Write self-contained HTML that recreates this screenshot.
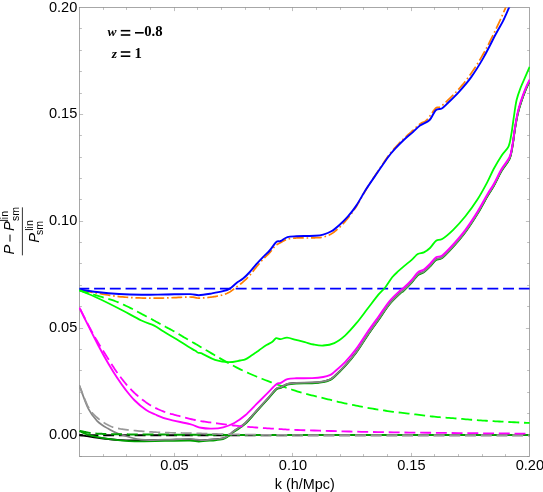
<!DOCTYPE html>
<html><head><meta charset="utf-8"><title>plot</title>
<style>
html,body{margin:0;padding:0;background:#fff;}
body{width:543px;height:492px;overflow:hidden;}
svg{display:block;will-change:transform;}
text{font-family:"Liberation Sans",sans-serif;fill:#000;}
.tk{font-size:15.4px;}
.ser text{font-family:"Liberation Serif",serif;font-weight:bold;}
</style></head><body>
<svg width="543" height="492" viewBox="0 0 543 492">
<rect x="0" y="0" width="543" height="492" fill="#ffffff"/>
<defs><clipPath id="cp"><rect x="78.95" y="7.55" width="450.99999999999994" height="448.84999999999997"/></clipPath></defs>
<g stroke="#8a8a8a" stroke-width="0.75" fill="none">
<rect x="79.5" y="7.5" width="450.0" height="449.0"/>
<g stroke-width="0.55">
<line x1="103.50" y1="456.50" x2="103.50" y2="454.10"/>
<line x1="103.50" y1="7.50" x2="103.50" y2="9.90"/>
<line x1="126.50" y1="456.50" x2="126.50" y2="454.10"/>
<line x1="126.50" y1="7.50" x2="126.50" y2="9.90"/>
<line x1="150.50" y1="456.50" x2="150.50" y2="454.10"/>
<line x1="150.50" y1="7.50" x2="150.50" y2="9.90"/>
<line x1="174.50" y1="456.50" x2="174.50" y2="452.90"/>
<line x1="174.50" y1="7.50" x2="174.50" y2="11.10"/>
<line x1="197.50" y1="456.50" x2="197.50" y2="454.10"/>
<line x1="197.50" y1="7.50" x2="197.50" y2="9.90"/>
<line x1="221.50" y1="456.50" x2="221.50" y2="454.10"/>
<line x1="221.50" y1="7.50" x2="221.50" y2="9.90"/>
<line x1="245.50" y1="456.50" x2="245.50" y2="454.10"/>
<line x1="245.50" y1="7.50" x2="245.50" y2="9.90"/>
<line x1="269.50" y1="456.50" x2="269.50" y2="454.10"/>
<line x1="269.50" y1="7.50" x2="269.50" y2="9.90"/>
<line x1="292.50" y1="456.50" x2="292.50" y2="452.90"/>
<line x1="292.50" y1="7.50" x2="292.50" y2="11.10"/>
<line x1="316.50" y1="456.50" x2="316.50" y2="454.10"/>
<line x1="316.50" y1="7.50" x2="316.50" y2="9.90"/>
<line x1="340.50" y1="456.50" x2="340.50" y2="454.10"/>
<line x1="340.50" y1="7.50" x2="340.50" y2="9.90"/>
<line x1="363.50" y1="456.50" x2="363.50" y2="454.10"/>
<line x1="363.50" y1="7.50" x2="363.50" y2="9.90"/>
<line x1="387.50" y1="456.50" x2="387.50" y2="454.10"/>
<line x1="387.50" y1="7.50" x2="387.50" y2="9.90"/>
<line x1="411.50" y1="456.50" x2="411.50" y2="452.90"/>
<line x1="411.50" y1="7.50" x2="411.50" y2="11.10"/>
<line x1="434.50" y1="456.50" x2="434.50" y2="454.10"/>
<line x1="434.50" y1="7.50" x2="434.50" y2="9.90"/>
<line x1="458.50" y1="456.50" x2="458.50" y2="454.10"/>
<line x1="458.50" y1="7.50" x2="458.50" y2="9.90"/>
<line x1="482.50" y1="456.50" x2="482.50" y2="454.10"/>
<line x1="482.50" y1="7.50" x2="482.50" y2="9.90"/>
<line x1="505.50" y1="456.50" x2="505.50" y2="454.10"/>
<line x1="505.50" y1="7.50" x2="505.50" y2="9.90"/>
<line x1="79.50" y1="456.50" x2="81.90" y2="456.50"/>
<line x1="529.50" y1="456.50" x2="527.10" y2="456.50"/>
<line x1="79.50" y1="434.50" x2="83.10" y2="434.50"/>
<line x1="529.50" y1="434.50" x2="525.90" y2="434.50"/>
<line x1="79.50" y1="413.50" x2="81.90" y2="413.50"/>
<line x1="529.50" y1="413.50" x2="527.10" y2="413.50"/>
<line x1="79.50" y1="392.50" x2="81.90" y2="392.50"/>
<line x1="529.50" y1="392.50" x2="527.10" y2="392.50"/>
<line x1="79.50" y1="370.50" x2="81.90" y2="370.50"/>
<line x1="529.50" y1="370.50" x2="527.10" y2="370.50"/>
<line x1="79.50" y1="349.50" x2="81.90" y2="349.50"/>
<line x1="529.50" y1="349.50" x2="527.10" y2="349.50"/>
<line x1="79.50" y1="328.50" x2="83.10" y2="328.50"/>
<line x1="529.50" y1="328.50" x2="525.90" y2="328.50"/>
<line x1="79.50" y1="306.50" x2="81.90" y2="306.50"/>
<line x1="529.50" y1="306.50" x2="527.10" y2="306.50"/>
<line x1="79.50" y1="285.50" x2="81.90" y2="285.50"/>
<line x1="529.50" y1="285.50" x2="527.10" y2="285.50"/>
<line x1="79.50" y1="263.50" x2="81.90" y2="263.50"/>
<line x1="529.50" y1="263.50" x2="527.10" y2="263.50"/>
<line x1="79.50" y1="242.50" x2="81.90" y2="242.50"/>
<line x1="529.50" y1="242.50" x2="527.10" y2="242.50"/>
<line x1="79.50" y1="221.50" x2="83.10" y2="221.50"/>
<line x1="529.50" y1="221.50" x2="525.90" y2="221.50"/>
<line x1="79.50" y1="199.50" x2="81.90" y2="199.50"/>
<line x1="529.50" y1="199.50" x2="527.10" y2="199.50"/>
<line x1="79.50" y1="178.50" x2="81.90" y2="178.50"/>
<line x1="529.50" y1="178.50" x2="527.10" y2="178.50"/>
<line x1="79.50" y1="157.50" x2="81.90" y2="157.50"/>
<line x1="529.50" y1="157.50" x2="527.10" y2="157.50"/>
<line x1="79.50" y1="135.50" x2="81.90" y2="135.50"/>
<line x1="529.50" y1="135.50" x2="527.10" y2="135.50"/>
<line x1="79.50" y1="114.50" x2="83.10" y2="114.50"/>
<line x1="529.50" y1="114.50" x2="525.90" y2="114.50"/>
<line x1="79.50" y1="93.50" x2="81.90" y2="93.50"/>
<line x1="529.50" y1="93.50" x2="527.10" y2="93.50"/>
<line x1="79.50" y1="71.50" x2="81.90" y2="71.50"/>
<line x1="529.50" y1="71.50" x2="527.10" y2="71.50"/>
<line x1="79.50" y1="50.50" x2="81.90" y2="50.50"/>
<line x1="529.50" y1="50.50" x2="527.10" y2="50.50"/>
<line x1="79.50" y1="28.50" x2="81.90" y2="28.50"/>
<line x1="529.50" y1="28.50" x2="527.10" y2="28.50"/>
</g>
</g>
<g clip-path="url(#cp)" stroke-linejoin="round" stroke-linecap="butt">
<path d="M79.40 288.70 L80.40 288.70 L81.65 288.70 L83.12 288.70 L84.76 288.70 L86.55 288.70 L88.45 288.70 L89.30 288.70 M94.10 288.70 L94.41 288.70 L96.36 288.70 L98.24 288.70 L100.00 288.70 L101.69 288.70 L103.37 288.70 L105.03 288.70 M109.83 288.70 L110.04 288.70 L111.70 288.70 L113.36 288.70 L115.01 288.70 L116.67 288.70 L118.34 288.70 L120.00 288.70 L120.76 288.70 M125.56 288.70 L126.67 288.70 L128.33 288.70 L130.00 288.70 L131.67 288.70 L133.33 288.70 L135.00 288.70 L136.49 288.70 M141.29 288.70 L141.67 288.70 L143.33 288.70 L145.00 288.70 L146.67 288.70 L148.33 288.70 L150.00 288.70 L151.67 288.70 L152.22 288.70 M157.02 288.70 L158.33 288.70 L160.00 288.70 L161.67 288.70 L163.33 288.70 L165.00 288.70 L166.67 288.70 L167.95 288.70 M172.75 288.70 L173.33 288.70 L175.00 288.70 L176.67 288.70 L178.33 288.70 L180.00 288.70 L181.67 288.70 L183.33 288.70 L183.68 288.70 M188.48 288.70 L190.00 288.70 L191.67 288.70 L193.33 288.70 L195.00 288.70 L196.67 288.70 L198.33 288.70 L199.41 288.70 M204.21 288.70 L205.00 288.70 L206.67 288.70 L208.33 288.70 L210.00 288.70 L211.67 288.70 L213.33 288.70 L215.00 288.70 L215.14 288.70 M219.94 288.70 L220.00 288.70 L221.67 288.70 L223.33 288.70 L225.00 288.70 L226.67 288.70 L228.33 288.70 L230.00 288.70 L230.87 288.70 M235.67 288.70 L236.67 288.70 L238.33 288.70 L240.00 288.70 L241.67 288.70 L243.33 288.70 L245.00 288.70 L246.60 288.70 M251.40 288.70 L251.67 288.70 L253.33 288.70 L255.00 288.70 L256.67 288.70 L258.33 288.70 L260.00 288.70 L261.67 288.70 L262.33 288.70 M267.13 288.70 L268.33 288.70 L270.00 288.70 L271.67 288.70 L273.33 288.70 L275.00 288.70 L276.67 288.70 L278.06 288.70 M282.86 288.70 L283.33 288.70 L285.00 288.70 L286.67 288.70 L288.33 288.70 L290.00 288.70 L291.67 288.70 L293.33 288.70 L293.79 288.70 M298.59 288.70 L300.00 288.70 L301.67 288.70 L303.33 288.70 L305.00 288.70 L306.67 288.70 L308.33 288.70 L309.52 288.70 M314.32 288.70 L315.00 288.70 L316.67 288.70 L318.33 288.70 L320.00 288.70 L321.67 288.70 L323.33 288.70 L325.00 288.70 L325.25 288.70 M330.05 288.70 L331.67 288.70 L333.33 288.70 L335.00 288.70 L336.67 288.70 L338.33 288.70 L340.00 288.70 L340.98 288.70 M345.78 288.70 L346.67 288.70 L348.33 288.70 L350.00 288.70 L351.67 288.70 L353.33 288.70 L355.00 288.70 L356.67 288.70 L356.71 288.70 M361.51 288.70 L361.67 288.70 L363.33 288.70 L365.00 288.70 L366.67 288.70 L368.33 288.70 L370.00 288.70 L371.67 288.70 L372.44 288.70 M377.24 288.70 L378.33 288.70 L380.00 288.70 L381.67 288.70 L383.33 288.70 L385.00 288.70 L386.67 288.70 L388.17 288.70 M392.97 288.70 L393.33 288.70 L395.00 288.70 L396.67 288.70 L398.33 288.70 L400.00 288.70 L401.67 288.70 L403.33 288.70 L403.90 288.70 M408.70 288.70 L410.00 288.70 L411.67 288.70 L413.33 288.70 L415.00 288.70 L416.67 288.70 L418.33 288.70 L419.63 288.70 M424.43 288.70 L425.00 288.70 L426.67 288.70 L428.33 288.70 L430.00 288.70 L431.67 288.70 L433.33 288.70 L435.00 288.70 L435.36 288.70 M440.16 288.70 L441.67 288.70 L443.33 288.70 L445.00 288.70 L446.67 288.70 L448.33 288.70 L450.00 288.70 L451.09 288.70 M455.89 288.70 L456.67 288.70 L458.33 288.70 L460.00 288.70 L461.67 288.70 L463.33 288.70 L465.00 288.70 L466.67 288.70 L466.82 288.70 M471.62 288.70 L471.67 288.70 L473.33 288.70 L475.00 288.70 L476.67 288.70 L478.33 288.70 L480.00 288.70 L481.67 288.70 L482.55 288.70 M487.35 288.70 L488.33 288.70 L490.00 288.70 L491.67 288.70 L493.33 288.70 L495.00 288.70 L496.67 288.70 L498.28 288.70 M503.08 288.70 L503.45 288.70 L505.24 288.70 L507.05 288.70 L508.86 288.70 L510.65 288.70 L512.40 288.70 L514.01 288.70 M518.81 288.70 L520.00 288.70 L521.19 288.70 L522.31 288.70 L523.36 288.70 L524.33 288.70 L525.22 288.70 L526.05 288.70 L526.81 288.70 L527.50 288.70 L528.12 288.70 L528.68 288.70 L529.17 288.70 L529.60 288.70" fill="none" stroke="#0000ff" stroke-width="1.80"/>
<path d="M82.00 290.48 L82.46 290.57 L83.80 290.82 L85.26 291.10 L86.83 291.39 L88.46 291.69 L90.16 292.00 L91.88 292.31 L92.62 292.44 M95.38 292.93 L96.95 293.19 M99.72 293.66 L100.41 293.78 L102.19 294.08 L104.01 294.39 L105.85 294.70 L107.72 295.01 L109.61 295.31 L110.37 295.43 M113.14 295.85 L113.40 295.89 L114.72 296.07 M117.50 296.43 L119.00 296.60 L120.83 296.79 L122.64 296.97 L124.45 297.12 L126.26 297.27 L128.07 297.40 L128.25 297.41 M131.05 297.58 L131.69 297.62 L132.65 297.67 M135.44 297.80 L137.22 297.87 L139.10 297.94 L141.00 298.00 L142.93 298.05 L144.87 298.09 L146.24 298.11 M149.04 298.14 L150.64 298.15 M153.44 298.15 L154.83 298.14 L156.85 298.13 L158.88 298.10 L160.92 298.07 L162.96 298.04 L164.24 298.01 M167.04 297.95 L167.10 297.94 L168.63 297.89 M171.43 297.78 L171.56 297.77 L173.86 297.66 L176.16 297.55 L178.44 297.43 L180.67 297.32 L182.22 297.24 M185.02 297.12 L186.62 297.06 M189.41 297.00 L190.00 297.00 L191.29 297.03 L192.37 297.09 L193.26 297.18 L194.00 297.29 L194.64 297.42 L195.19 297.56 L195.71 297.69 L196.22 297.82 L196.76 297.93 L197.36 298.02 L198.06 298.08 L198.90 298.10 L199.85 298.09 L200.12 298.08 M202.91 297.94 L203.03 297.94 L204.17 297.85 L204.51 297.82 M207.30 297.56 L207.63 297.53 L208.77 297.40 L209.89 297.27 L210.97 297.14 L212.00 297.00 L213.00 296.86 L214.00 296.71 L215.00 296.54 L215.98 296.37 L216.94 296.20 L217.89 296.01 L217.98 296.00 M220.71 295.40 L221.43 295.22 L222.24 295.01 L222.26 295.00 M224.94 294.19 L225.00 294.17 L225.58 293.96 L226.14 293.74 L226.67 293.52 L227.19 293.29 L227.70 293.04 L228.21 292.78 L228.72 292.51 L229.25 292.21 L229.80 291.90 L230.36 291.56 L230.92 291.20 L231.48 290.82 L232.04 290.42 L232.60 290.01 L233.16 289.59 L233.72 289.16 L234.22 288.77 M236.43 287.05 L236.50 287.00 L237.05 286.59 L237.60 286.18 L237.72 286.10 M239.97 284.43 L240.35 284.14 L240.90 283.72 L241.45 283.29 L242.00 282.84 L242.55 282.38 L243.10 281.90 L243.66 281.41 L244.21 280.91 L244.77 280.40 L245.33 279.87 L245.89 279.34 L246.45 278.80 L247.01 278.25 L247.57 277.68 L248.00 277.24 M249.90 275.18 L250.35 274.67 L250.91 274.01 L250.94 273.96 M252.68 271.77 L253.11 271.22 L253.66 270.50 L254.20 269.79 L254.75 269.07 L255.30 268.37 L255.85 267.68 L256.40 267.00 L256.95 266.33 L257.50 265.67 L258.05 265.01 L258.60 264.35 L259.14 263.69 L259.44 263.35 M261.26 261.22 L261.34 261.13 L261.89 260.51 L262.33 260.03 M264.26 258.00 L264.70 257.58 L265.27 257.02 L265.85 256.48 L266.42 255.94 L266.99 255.40 L267.55 254.87 L268.11 254.33 L268.65 253.79 L269.18 253.25 L269.70 252.70 L270.20 252.13 L270.68 251.55 L271.16 250.96 L271.62 250.36 L271.72 250.22 M273.41 247.99 L273.85 247.45 L274.29 246.93 L274.45 246.76 M276.54 244.92 L276.57 244.90 L277.02 244.59 L277.48 244.30 L277.93 244.04 L278.39 243.78 L278.86 243.53 L279.33 243.29 L279.81 243.03 L280.30 242.77 L280.80 242.50 L281.31 242.21 L281.82 241.91 L282.33 241.61 L282.84 241.31 L283.36 241.00 L283.89 240.71 L284.44 240.42 L284.99 240.14 L285.56 239.87 L285.99 239.70 M288.66 238.88 L288.73 238.86 L289.43 238.72 L290.14 238.60 L290.23 238.59 M293.01 238.25 L293.14 238.23 L293.92 238.17 L294.71 238.11 L295.50 238.05 L296.30 238.00 L297.12 237.96 L297.96 237.93 L298.82 237.92 L299.70 237.92 L300.59 237.93 L301.49 237.94 L302.38 237.95 L303.26 237.97 L303.80 237.98 M306.60 238.00 L307.36 237.99 L308.10 237.98 L308.20 237.98 M311.00 237.94 L311.54 237.93 L312.21 237.91 L312.87 237.89 L313.54 237.86 L314.21 237.83 L314.90 237.80 L315.59 237.77 L316.28 237.74 L316.98 237.72 L317.67 237.70 L318.36 237.68 L319.06 237.64 L319.75 237.60 L320.44 237.54 L321.13 237.47 L321.78 237.38 M324.51 236.76 L324.57 236.74 L325.25 236.54 L325.94 236.31 L326.04 236.28 M328.64 235.25 L328.66 235.24 L329.35 234.92 L330.03 234.57 L330.71 234.20 L331.40 233.80 L332.09 233.37 L332.78 232.92 L333.47 232.44 L334.16 231.94 L334.85 231.42 L335.54 230.87 L336.24 230.30 L336.93 229.71 L337.53 229.19 M339.59 227.30 L339.70 227.20 L340.39 226.53 L340.74 226.18 M342.69 224.17 L343.16 223.67 L343.85 222.91 L344.54 222.13 L345.23 221.33 L345.93 220.52 L346.62 219.70 L347.31 218.86 L348.00 218.00 L348.69 217.14 L349.36 216.29 L349.65 215.92 M351.35 213.70 L351.37 213.68 L352.04 212.77 L352.30 212.41 M353.91 210.12 L354.10 209.85 L354.81 208.79 L355.55 207.68 L356.30 206.50 L357.08 205.25 L357.87 203.93 L358.68 202.54 L359.50 201.10 L359.59 200.94 M360.96 198.49 L361.18 198.10 L361.73 197.10 M363.10 194.65 L363.76 193.49 L364.64 191.96 L365.52 190.46 L366.40 189.00 L367.29 187.56 L368.19 186.12 L368.65 185.39 M370.16 183.03 L370.95 181.81 L371.03 181.69 M372.57 179.35 L372.82 178.96 L373.76 177.53 L374.70 176.12 L375.64 174.70 L376.57 173.30 L377.50 171.90 L378.44 170.48 L378.53 170.34 M380.08 168.01 L380.38 167.55 L380.96 166.68 M382.52 164.35 L383.33 163.13 L384.29 161.70 L385.23 160.32 L386.14 158.99 L387.01 157.74 L387.83 156.57 L388.60 155.50 L388.64 155.45 M390.31 153.20 L390.51 152.94 L391.05 152.25 L391.30 151.95 M393.11 149.81 L393.50 149.38 L394.02 148.80 L394.59 148.18 L395.20 147.50 L395.86 146.78 L396.54 146.03 L397.24 145.28 L397.97 144.51 L398.71 143.73 L399.46 142.95 L400.21 142.17 L400.47 141.91 M402.44 139.92 L402.50 139.87 L403.26 139.12 L403.59 138.80 M405.62 136.88 L406.26 136.29 L407.03 135.60 L407.79 134.91 L408.56 134.24 L409.31 133.57 L410.06 132.91 L410.80 132.27 L411.52 131.63 L412.22 131.01 L412.90 130.40 L413.55 129.80 L413.68 129.68 M415.70 127.75 L415.99 127.47 L416.56 126.92 L416.85 126.64 M418.93 124.76 L419.41 124.36 L420.00 123.90 L420.59 123.49 L421.17 123.14 L421.74 122.84 L422.31 122.57 L422.88 122.31 L423.46 122.06 L424.04 121.78 L424.62 121.48 L425.22 121.12 L425.83 120.70 L426.46 120.20 L427.10 119.60 L427.77 118.87 L427.83 118.80 M429.53 116.58 L429.95 115.99 L430.45 115.27 M432.02 112.96 L432.22 112.67 L432.96 111.60 L433.69 110.58 L434.39 109.66 L435.07 108.86 L435.70 108.20 L436.26 107.73 L436.73 107.45 L437.14 107.31 L437.51 107.27 L437.86 107.30 L438.21 107.35 L438.60 107.38 L439.04 107.35 L439.55 107.22 L440.13 106.96 M442.38 105.31 L442.86 104.89 L443.58 104.25 M445.64 102.35 L446.90 101.16 L448.43 99.68 L450.02 98.12 L451.63 96.52 L453.23 94.90 L453.34 94.78 M455.29 92.77 L456.29 91.72 L456.39 91.61 M458.30 89.56 L459.00 88.80 L460.19 87.47 L461.32 86.18 L462.40 84.92 L463.43 83.68 L464.43 82.45 L465.31 81.35 M467.01 79.13 L467.31 78.73 L467.96 77.84 M469.60 75.57 L470.20 74.74 L471.20 73.30 L472.22 71.81 L473.25 70.30 L474.27 68.75 L475.30 67.17 L475.64 66.62 M477.14 64.25 L477.35 63.92 L477.98 62.89 M479.44 60.50 L480.43 58.83 L481.45 57.08 L482.48 55.30 L483.50 53.50 L484.53 51.65 L484.81 51.13 M486.14 48.67 L486.61 47.80 L486.89 47.26 M488.19 44.78 L488.70 43.80 L489.74 41.76 L490.77 39.72 L491.79 37.68 L492.80 35.65 L493.05 35.13 M494.28 32.62 L494.76 31.65 L494.98 31.18 M496.20 28.66 L496.64 27.74 L497.58 25.72 L498.53 23.67 L499.47 21.61 L500.39 19.55 L500.71 18.84 M501.85 16.29 L502.17 15.56 L502.49 14.82 M503.62 12.26 L503.79 11.88 L504.52 10.20 L505.20 8.67 L505.80 7.30 L506.33 6.09 L506.81 5.00 L507.22 4.04 L507.59 3.18 L507.90 2.42 L507.93 2.36 M508.99 -0.24 L509.00 -0.26 L509.15 -0.64 L509.30 -1.00" fill="none" stroke="#ff7f00" stroke-width="1.70"/>
<path d="M79.40 289.50 C82.33 289.92 90.40 291.25 97.00 292.00 C103.60 292.75 111.60 293.53 119.00 294.00 C126.40 294.47 133.73 294.72 141.40 294.80 C149.07 294.88 156.90 294.62 165.00 294.50 C173.10 294.38 184.35 293.98 190.00 294.10 C195.65 294.22 195.23 295.32 198.90 295.20 C202.57 295.08 207.98 294.07 212.00 293.40 C216.02 292.73 220.03 292.00 223.00 291.20 C225.97 290.40 227.55 289.97 229.80 288.60 C232.05 287.23 234.28 284.67 236.50 283.00 C238.72 281.33 240.88 280.43 243.10 278.60 C245.32 276.77 247.58 274.40 249.80 272.00 C252.02 269.60 254.20 266.68 256.40 264.20 C258.60 261.72 260.78 259.38 263.00 257.10 C265.22 254.82 267.67 252.82 269.70 250.50 C271.73 248.18 273.92 244.72 275.20 243.20 C276.48 241.68 276.47 241.77 277.40 241.40 C278.33 241.03 279.13 241.70 280.80 241.00 C282.47 240.30 284.82 237.98 287.40 237.20 C289.98 236.42 293.10 236.50 296.30 236.30 C299.50 236.10 303.50 236.08 306.60 236.00 C309.70 235.92 312.13 236.03 314.90 235.80 C317.67 235.57 320.45 235.35 323.20 234.60 C325.95 233.85 328.65 232.95 331.40 231.30 C334.15 229.65 336.93 227.18 339.70 224.70 C342.47 222.22 345.23 219.58 348.00 216.40 C350.77 213.22 353.23 210.20 356.30 205.60 C359.37 201.00 362.87 194.32 366.40 188.80 C369.93 183.28 373.80 177.88 377.50 172.50 C381.20 167.12 385.65 160.47 388.60 156.50 C391.55 152.53 392.63 151.48 395.20 148.70 C397.77 145.92 401.05 142.57 404.00 139.80 C406.95 137.03 410.23 134.48 412.90 132.10 C415.57 129.72 417.22 127.52 420.00 125.50 C422.78 123.48 426.98 122.55 429.60 120.00 C432.22 117.45 433.67 112.12 435.70 110.20 C437.73 108.28 439.97 109.52 441.80 108.50 C443.63 107.48 443.83 106.88 446.70 104.10 C449.57 101.32 454.92 96.30 459.00 91.80 C463.08 87.30 467.12 82.80 471.20 77.10 C475.28 71.40 479.42 64.73 483.50 57.60 C487.58 50.47 492.43 40.43 495.70 34.30 C498.97 28.17 500.85 25.30 503.10 20.80 C505.35 16.30 507.55 10.93 509.20 7.30 C510.85 3.67 512.37 0.38 513.00 -1.00" fill="none" stroke="#0000ff" stroke-width="1.90"/>
<path d="M79.40 290.40 C82.33 291.62 90.35 294.65 97.00 297.70 C103.65 300.75 111.90 304.90 119.30 308.70 C126.70 312.50 135.58 317.68 141.40 320.50 C147.22 323.32 150.50 323.75 154.20 325.60 C157.90 327.45 159.87 329.33 163.60 331.60 C167.33 333.87 172.60 336.75 176.60 339.20 C180.60 341.65 184.53 344.40 187.60 346.30 C190.67 348.20 193.25 349.53 195.00 350.60 C196.75 351.67 197.12 352.27 198.10 352.70 C199.08 353.13 199.75 352.80 200.90 353.20 C202.05 353.60 202.65 354.00 205.00 355.10 C207.35 356.20 211.05 358.62 215.00 359.80 C218.95 360.98 224.53 362.08 228.70 362.20 C232.87 362.32 237.23 360.97 240.00 360.50 C242.77 360.03 243.33 360.27 245.30 359.40 C247.27 358.53 249.50 356.83 251.80 355.30 C254.10 353.77 256.65 351.92 259.10 350.20 C261.55 348.48 264.28 346.40 266.50 345.00 C268.72 343.60 270.80 342.93 272.40 341.80 C274.00 340.67 274.75 338.65 276.10 338.20 C277.45 337.75 278.67 339.18 280.50 339.10 C282.33 339.02 284.52 337.57 287.10 337.70 C289.68 337.83 293.05 339.17 296.00 339.90 C298.95 340.63 301.87 341.33 304.80 342.10 C307.73 342.87 310.53 343.93 313.60 344.50 C316.67 345.07 319.75 345.73 323.20 345.50 C326.65 345.27 330.62 344.80 334.30 343.10 C337.98 341.40 341.62 338.62 345.30 335.30 C348.98 331.98 352.70 327.62 356.40 323.20 C360.10 318.78 363.80 313.60 367.50 308.80 C371.20 304.00 375.65 297.95 378.60 294.40 C381.55 290.85 382.93 290.35 385.20 287.50 C387.47 284.65 390.02 280.02 392.20 277.30 C394.38 274.58 396.27 273.10 398.30 271.20 C400.33 269.30 402.17 267.80 404.40 265.90 C406.63 264.00 409.47 261.77 411.70 259.80 C413.93 257.83 415.77 255.33 417.80 254.10 C419.83 252.87 421.87 253.42 423.90 252.40 C425.93 251.38 427.97 249.95 430.00 248.00 C432.03 246.05 434.07 242.20 436.10 240.70 C438.13 239.20 439.35 240.82 442.20 239.00 C445.05 237.18 449.33 233.58 453.20 229.80 C457.07 226.02 461.33 221.38 465.40 216.30 C469.47 211.22 473.95 204.98 477.60 199.30 C481.25 193.62 484.60 187.28 487.30 182.20 C490.00 177.12 491.40 173.25 493.80 168.80 C496.20 164.35 499.23 159.25 501.70 155.50 C504.17 151.75 507.00 149.82 508.60 146.30 C510.20 142.78 510.40 139.48 511.30 134.40 C512.20 129.32 513.12 121.53 514.00 115.80 C514.88 110.07 515.52 104.63 516.60 100.00 C517.68 95.37 519.00 91.97 520.50 88.00 C522.00 84.03 524.08 79.72 525.60 76.20 C527.12 72.68 528.93 68.45 529.60 66.90" fill="none" stroke="#00ff00" stroke-width="1.80"/>
<path d="M79.40 290.40 L80.27 290.66 L81.37 290.98 L82.67 291.37 L84.13 291.80 L85.72 292.27 L87.39 292.76 L88.62 293.13 M93.22 294.49 L94.13 294.75 L95.64 295.20 L97.00 295.60 L98.26 295.97 L99.48 296.32 L100.66 296.66 L101.81 296.99 L102.93 297.30 L103.72 297.53 M108.32 298.87 L109.06 299.10 L110.00 299.40 L110.89 299.69 L111.72 299.96 L112.50 300.22 L113.24 300.47 L113.96 300.71 L114.66 300.96 L115.36 301.22 L116.08 301.49 L116.82 301.78 L117.59 302.09 L118.41 302.43 L118.62 302.52 M123.02 304.45 L123.44 304.64 L124.56 305.17 L125.70 305.70 L126.84 306.24 L127.96 306.78 L129.06 307.31 L130.13 307.83 L131.14 308.33 L132.10 308.80 L132.87 309.19 M137.10 311.44 L137.69 311.77 L138.41 312.17 L139.14 312.57 L139.88 312.98 L140.63 313.39 L141.40 313.80 L142.17 314.21 L142.93 314.61 L143.69 315.00 L144.43 315.39 L145.18 315.78 L145.94 316.18 L146.70 316.57 L146.74 316.59 M150.98 318.84 L151.85 319.32 L152.86 319.87 L153.91 320.45 L154.99 321.04 L156.09 321.66 L157.21 322.28 L158.32 322.90 L159.43 323.51 L160.53 324.12 L160.55 324.13 M164.77 326.42 L165.43 326.77 L166.29 327.22 L167.12 327.66 L167.94 328.08 L168.75 328.49 L169.56 328.91 L170.37 329.33 L171.19 329.77 L172.03 330.22 L172.90 330.70 L173.80 331.20 L174.42 331.55 M178.55 334.00 L178.77 334.13 L179.81 334.76 L180.84 335.38 L181.86 336.00 L182.87 336.61 L183.85 337.20 L184.79 337.77 L185.70 338.30 L186.56 338.80 L187.39 339.28 L187.94 339.59 M192.12 341.95 L192.65 342.25 L193.41 342.69 L194.19 343.13 L195.00 343.60 L195.77 344.05 L196.47 344.46 L197.11 344.85 L197.73 345.22 L198.36 345.60 L199.03 346.00 L199.77 346.44 L200.60 346.94 L201.54 347.49 M205.69 349.91 L207.28 350.83 L209.32 352.03 L211.57 353.35 L213.99 354.77 L215.12 355.43 M219.26 357.85 L221.85 359.35 L224.52 360.89 L227.14 362.38 L228.75 363.28 M232.96 365.58 L234.30 366.30 L236.38 367.38 L238.37 368.38 L240.29 369.33 L242.16 370.23 L242.72 370.49 M247.09 372.49 L247.52 372.69 L249.27 373.46 L251.02 374.22 L252.79 374.97 L254.58 375.73 L256.40 376.50 L257.13 376.81 M261.57 378.62 L261.95 378.77 L263.80 379.50 L265.65 380.22 L267.50 380.93 L269.35 381.62 L271.20 382.31 L271.78 382.52 M276.29 384.17 L276.75 384.34 L278.60 385.00 L280.45 385.66 L282.29 386.32 L284.14 386.97 L285.99 387.62 L286.59 387.83 M291.13 389.38 L291.53 389.51 L293.37 390.11 L295.21 390.71 L297.04 391.29 L298.87 391.85 L300.70 392.40 L301.56 392.65 M306.19 393.92 L307.94 394.38 L309.74 394.83 L311.54 395.27 L313.34 395.71 L315.14 396.14 L316.80 396.54 M321.47 397.67 L322.40 397.90 L324.24 398.36 L326.08 398.82 L327.93 399.28 L329.79 399.74 L331.64 400.21 L332.07 400.31 M336.73 401.46 L337.24 401.58 L339.10 402.02 L340.97 402.46 L342.84 402.89 L344.70 403.30 L346.56 403.70 L347.39 403.88 M352.09 404.86 L352.16 404.87 L354.03 405.24 L355.89 405.61 L357.76 405.97 L359.63 406.33 L361.50 406.68 L362.82 406.92 M367.55 407.78 L368.97 408.03 L370.83 408.36 L372.70 408.68 L374.57 408.99 L376.43 409.30 L378.30 409.61 L378.32 409.61 M383.06 410.35 L383.90 410.48 L385.77 410.76 L387.63 411.03 L389.50 411.30 L391.37 411.56 L393.23 411.80 L393.89 411.88 M398.65 412.47 L398.84 412.49 L400.71 412.71 L402.57 412.92 L404.44 413.13 L406.31 413.35 L408.17 413.56 L409.51 413.72 M414.27 414.29 L415.62 414.46 L417.48 414.70 L419.34 414.93 L421.19 415.17 L423.05 415.41 L424.91 415.64 L425.12 415.66 M429.88 416.23 L430.48 416.30 L432.34 416.51 L434.20 416.70 L436.06 416.88 L437.93 417.05 L439.79 417.21 L440.76 417.29 M445.55 417.67 L447.26 417.80 L449.13 417.93 L451.00 418.07 L452.87 418.21 L454.73 418.35 L456.45 418.49 M461.23 418.88 L462.20 418.96 L464.07 419.12 L465.94 419.28 L467.81 419.43 L469.67 419.59 L471.54 419.74 L472.12 419.78 M476.91 420.15 L477.14 420.17 L479.00 420.30 L480.84 420.43 L482.65 420.54 L484.44 420.66 L486.22 420.77 L487.82 420.86 M492.61 421.13 L493.43 421.18 L495.31 421.28 L497.24 421.38 L499.23 421.49 L501.30 421.60 L503.52 421.72 M508.32 421.96 L508.62 421.98 L511.34 422.11 L514.10 422.25 L516.84 422.38 L519.23 422.50 M524.03 422.73 L524.37 422.75 L526.45 422.85 L528.21 422.93 L529.60 423.00" fill="none" stroke="#00ff00" stroke-width="1.80"/>
<path d="M79.40 435.00 C80.67 435.20 83.88 435.73 87.00 436.20 C90.12 436.67 94.42 437.30 98.10 437.80 C101.78 438.30 105.45 438.82 109.10 439.20 C112.75 439.58 115.73 439.90 120.00 440.10 C124.27 440.30 127.20 440.43 134.70 440.40 C142.20 440.37 155.78 440.08 165.00 439.90 C174.22 439.72 184.35 439.23 190.00 439.30 C195.65 439.37 195.23 440.25 198.90 440.30 C202.57 440.35 207.98 439.92 212.00 439.60 C216.02 439.28 220.22 439.11 223.00 438.40 C225.78 437.69 226.82 436.59 228.70 435.35 C230.58 434.11 231.53 432.98 234.30 430.95 C237.07 428.92 241.62 426.47 245.30 423.15 C248.98 419.83 252.70 415.10 256.40 411.05 C260.10 407.00 264.18 402.55 267.50 398.85 C270.82 395.15 274.08 390.77 276.30 388.85 C278.52 386.93 278.95 388.15 280.80 387.35 C282.65 386.55 284.82 384.78 287.40 384.05 C289.98 383.32 292.18 383.18 296.30 382.95 C300.42 382.72 307.62 382.88 312.10 382.65 C316.58 382.42 320.25 382.05 323.20 381.55 C326.15 381.05 327.95 380.50 329.80 379.65 C331.65 378.80 331.72 378.83 334.30 376.45 C336.88 374.07 341.62 369.45 345.30 365.35 C348.98 361.25 352.70 356.88 356.40 351.82 C360.10 346.76 363.80 340.42 367.50 335.00 C371.20 329.58 374.92 324.52 378.60 319.28 C382.28 314.04 385.92 308.05 389.60 303.56 C393.28 299.07 398.43 294.50 400.70 292.34 C402.97 290.19 401.37 292.34 403.20 290.62 C405.03 288.90 409.27 284.72 411.70 282.04 C414.13 279.37 415.77 276.32 417.80 274.59 C419.83 272.85 421.87 273.07 423.90 271.63 C425.93 270.20 427.97 268.03 430.00 265.98 C432.03 263.93 434.07 260.76 436.10 259.33 C438.13 257.89 439.35 259.55 442.20 257.37 C445.05 255.19 449.33 250.57 453.20 246.27 C457.07 241.97 461.33 237.08 465.40 231.56 C469.47 226.04 473.95 219.08 477.60 213.15 C481.25 207.22 484.60 200.57 487.30 195.96 C490.00 191.36 491.40 189.79 493.80 185.51 C496.20 181.22 499.07 174.78 501.70 170.25 C504.33 165.72 507.82 162.32 509.60 158.35 C511.38 154.38 511.48 151.53 512.40 146.45 C513.32 141.37 514.20 133.37 515.10 127.85 C516.00 122.33 516.85 117.53 517.80 113.35 C518.75 109.17 519.50 106.72 520.80 102.75 C522.10 98.78 524.13 93.17 525.60 89.55 C527.07 85.93 528.93 82.47 529.60 81.05" fill="none" stroke="#000000" stroke-width="1.80"/>
<path d="M79.40 435.20 L80.40 435.20 L81.65 435.20 L82.65 435.20 M87.45 435.20 L88.45 435.20 L90.42 435.20 L92.41 435.20 L94.41 435.20 L96.36 435.20 L98.24 435.20 L98.38 435.20 M103.18 435.20 L103.37 435.20 L105.04 435.20 L106.71 435.20 L108.38 435.20 L110.04 435.20 L111.70 435.20 L113.36 435.20 L114.11 435.20 M118.91 435.20 L120.00 435.20 L121.67 435.20 L123.33 435.20 L125.00 435.20 L126.67 435.20 L128.33 435.20 L129.84 435.20 M134.64 435.20 L135.00 435.20 L136.67 435.20 L138.33 435.20 L140.00 435.20 L141.67 435.20 L143.33 435.20 L145.00 435.20 L145.57 435.20 M150.37 435.20 L151.67 435.20 L153.33 435.20 L155.00 435.20 L156.67 435.20 L158.33 435.20 L160.00 435.20 L161.30 435.20 M166.10 435.20 L166.67 435.20 L168.33 435.20 L170.00 435.20 L171.67 435.20 L173.33 435.20 L175.00 435.20 L176.67 435.20 L177.03 435.20 M181.83 435.20 L183.33 435.20 L185.00 435.20 L186.67 435.20 L188.33 435.20 L190.00 435.20 L191.67 435.20 L192.76 435.20 M197.56 435.20 L198.33 435.20 L200.00 435.20 L201.67 435.20 L203.33 435.20 L205.00 435.20 L206.67 435.20 L208.33 435.20 L208.49 435.20 M213.29 435.20 L213.33 435.20 L215.00 435.20 L216.67 435.20 L218.33 435.20 L220.00 435.20 L221.67 435.20 L223.33 435.20 L224.22 435.20 M229.02 435.20 L230.00 435.20 L231.67 435.20 L233.33 435.20 L235.00 435.20 L236.67 435.20 L238.33 435.20 L239.95 435.20 M244.75 435.20 L245.00 435.20 L246.67 435.20 L248.33 435.20 L250.00 435.20 L251.67 435.20 L253.33 435.20 L255.00 435.20 L255.68 435.20 M260.48 435.20 L261.67 435.20 L263.33 435.20 L265.00 435.20 L266.67 435.20 L268.33 435.20 L270.00 435.20 L271.41 435.20 M276.21 435.20 L276.67 435.20 L278.33 435.20 L280.00 435.20 L281.67 435.20 L283.33 435.20 L285.00 435.20 L286.67 435.20 L287.14 435.20 M291.94 435.20 L293.33 435.20 L295.00 435.20 L296.67 435.20 L298.33 435.20 L300.00 435.20 L301.67 435.20 L302.87 435.20 M307.67 435.20 L308.33 435.20 L310.00 435.20 L311.67 435.20 L313.33 435.20 L315.00 435.20 L316.67 435.20 L318.33 435.20 L318.60 435.20 M323.40 435.20 L325.00 435.20 L326.67 435.20 L328.33 435.20 L330.00 435.20 L331.67 435.20 L333.33 435.20 L334.33 435.20 M339.13 435.20 L340.00 435.20 L341.67 435.20 L343.33 435.20 L345.00 435.20 L346.67 435.20 L348.33 435.20 L350.00 435.20 L350.06 435.20 M354.86 435.20 L355.00 435.20 L356.67 435.20 L358.33 435.20 L360.00 435.20 L361.67 435.20 L363.33 435.20 L365.00 435.20 L365.79 435.20 M370.59 435.20 L371.67 435.20 L373.33 435.20 L375.00 435.20 L376.67 435.20 L378.33 435.20 L380.00 435.20 L381.52 435.20 M386.32 435.20 L386.67 435.20 L388.33 435.20 L390.00 435.20 L391.67 435.20 L393.33 435.20 L395.00 435.20 L396.67 435.20 L397.25 435.20 M402.05 435.20 L403.33 435.20 L405.00 435.20 L406.67 435.20 L408.33 435.20 L410.00 435.20 L411.67 435.20 L412.98 435.20 M417.78 435.20 L418.33 435.20 L420.00 435.20 L421.67 435.20 L423.33 435.20 L425.00 435.20 L426.67 435.20 L428.33 435.20 L428.71 435.20 M433.51 435.20 L435.00 435.20 L436.67 435.20 L438.33 435.20 L440.00 435.20 L441.67 435.20 L443.33 435.20 L444.44 435.20 M449.24 435.20 L450.00 435.20 L451.67 435.20 L453.33 435.20 L455.00 435.20 L456.67 435.20 L458.33 435.20 L460.00 435.20 L460.17 435.20 M464.97 435.20 L465.00 435.20 L466.67 435.20 L468.33 435.20 L470.00 435.20 L471.67 435.20 L473.33 435.20 L475.00 435.20 L475.90 435.20 M480.70 435.20 L481.67 435.20 L483.33 435.20 L485.00 435.20 L486.67 435.20 L488.33 435.20 L490.00 435.20 L491.63 435.20 M496.43 435.20 L496.67 435.20 L498.33 435.20 L500.00 435.20 L501.70 435.20 L503.45 435.20 L505.24 435.20 L507.05 435.20 L507.36 435.20 M512.16 435.20 L512.40 435.20 L514.10 435.20 L515.73 435.20 L517.27 435.20 L518.70 435.20 L520.00 435.20 L521.19 435.20 L522.31 435.20 L523.09 435.20 M527.89 435.20 L528.12 435.20 L528.68 435.20 L529.17 435.20 L529.60 435.20" fill="none" stroke="#000000" stroke-width="1.90"/>
<path d="M79.40 431.00 C80.67 431.57 83.88 433.37 87.00 434.40 C90.12 435.43 94.42 436.45 98.10 437.20 C101.78 437.95 105.42 438.38 109.10 438.90 C112.78 439.42 115.93 439.90 120.20 440.30 C124.47 440.70 127.23 441.20 134.70 441.30 C142.17 441.40 155.78 441.02 165.00 440.90 C174.22 440.78 184.35 440.50 190.00 440.60 C195.65 440.70 195.23 441.52 198.90 441.50 C202.57 441.48 207.98 440.88 212.00 440.50 C216.02 440.12 220.22 439.95 223.00 439.20 C225.78 438.45 226.82 437.27 228.70 436.00 C230.58 434.73 231.53 433.63 234.30 431.60 C237.07 429.57 241.62 427.12 245.30 423.80 C248.98 420.48 252.70 415.75 256.40 411.70 C260.10 407.65 264.18 403.20 267.50 399.50 C270.82 395.80 274.08 391.42 276.30 389.50 C278.52 387.58 278.95 388.80 280.80 388.00 C282.65 387.20 284.82 385.43 287.40 384.70 C289.98 383.97 292.18 383.83 296.30 383.60 C300.42 383.37 307.62 383.53 312.10 383.30 C316.58 383.07 320.25 382.70 323.20 382.20 C326.15 381.70 327.95 381.15 329.80 380.30 C331.65 379.45 331.72 379.48 334.30 377.10 C336.88 374.72 341.62 370.10 345.30 366.00 C348.98 361.90 352.70 357.53 356.40 352.47 C360.10 347.41 363.80 341.07 367.50 335.65 C371.20 330.23 374.92 325.17 378.60 319.93 C382.28 314.69 385.92 308.70 389.60 304.21 C393.28 299.72 398.43 295.15 400.70 292.99 C402.97 290.84 401.37 292.99 403.20 291.27 C405.03 289.55 409.27 285.37 411.70 282.69 C414.13 280.02 415.77 276.97 417.80 275.24 C419.83 273.50 421.87 273.72 423.90 272.28 C425.93 270.85 427.97 268.68 430.00 266.63 C432.03 264.58 434.07 261.41 436.10 259.98 C438.13 258.54 439.35 260.20 442.20 258.02 C445.05 255.84 449.33 251.22 453.20 246.92 C457.07 242.62 461.33 237.73 465.40 232.21 C469.47 226.69 473.95 219.73 477.60 213.80 C481.25 207.87 484.60 201.22 487.30 196.61 C490.00 192.01 491.40 190.44 493.80 186.16 C496.20 181.87 499.07 175.43 501.70 170.90 C504.33 166.37 507.82 162.97 509.60 159.00 C511.38 155.03 511.48 152.18 512.40 147.10 C513.32 142.02 514.20 134.02 515.10 128.50 C516.00 122.98 516.85 118.18 517.80 114.00 C518.75 109.82 519.50 107.37 520.80 103.40 C522.10 99.43 524.13 93.82 525.60 90.20 C527.07 86.58 528.93 83.12 529.60 81.70" fill="none" stroke="#00a000" stroke-width="1.80"/>
<path d="M79.40 385.50 C80.88 389.37 85.37 402.82 88.30 408.70 C91.23 414.58 93.72 417.48 97.00 420.80 C100.28 424.12 104.30 426.40 108.00 428.60 C111.70 430.80 113.65 432.15 119.20 434.00 C124.75 435.85 133.67 438.75 141.30 439.70 C148.93 440.65 156.88 439.82 165.00 439.70 C173.12 439.58 184.00 438.93 190.00 439.00 C196.00 439.07 197.33 440.03 201.00 440.10 C204.67 440.17 208.33 439.72 212.00 439.40 C215.67 439.08 220.22 438.90 223.00 438.20 C225.78 437.50 226.82 436.43 228.70 435.20 C230.58 433.97 231.53 432.83 234.30 430.80 C237.07 428.77 241.62 426.32 245.30 423.00 C248.98 419.68 252.70 414.95 256.40 410.90 C260.10 406.85 264.18 402.40 267.50 398.70 C270.82 395.00 274.08 390.62 276.30 388.70 C278.52 386.78 278.95 388.00 280.80 387.20 C282.65 386.40 284.82 384.63 287.40 383.90 C289.98 383.17 292.18 383.03 296.30 382.80 C300.42 382.57 307.62 382.73 312.10 382.50 C316.58 382.27 320.25 381.90 323.20 381.40 C326.15 380.90 327.95 380.35 329.80 379.50 C331.65 378.65 331.72 378.68 334.30 376.30 C336.88 373.92 341.62 369.30 345.30 365.20 C348.98 361.10 352.70 356.73 356.40 351.67 C360.10 346.61 363.80 340.27 367.50 334.85 C371.20 329.43 374.92 324.37 378.60 319.13 C382.28 313.89 385.92 307.90 389.60 303.41 C393.28 298.92 398.43 294.35 400.70 292.19 C402.97 290.04 401.37 292.19 403.20 290.47 C405.03 288.75 409.27 284.57 411.70 281.89 C414.13 279.22 415.77 276.17 417.80 274.44 C419.83 272.70 421.87 272.92 423.90 271.48 C425.93 270.05 427.97 267.88 430.00 265.83 C432.03 263.78 434.07 260.61 436.10 259.18 C438.13 257.74 439.35 259.40 442.20 257.22 C445.05 255.04 449.33 250.42 453.20 246.12 C457.07 241.82 461.33 236.93 465.40 231.41 C469.47 225.89 473.95 218.93 477.60 213.00 C481.25 207.07 484.60 200.42 487.30 195.81 C490.00 191.21 491.40 189.64 493.80 185.36 C496.20 181.07 499.07 174.63 501.70 170.10 C504.33 165.57 507.82 162.17 509.60 158.20 C511.38 154.23 511.48 151.38 512.40 146.30 C513.32 141.22 514.20 133.22 515.10 127.70 C516.00 122.18 516.85 117.38 517.80 113.20 C518.75 109.02 519.50 106.57 520.80 102.60 C522.10 98.63 524.13 93.02 525.60 89.40 C527.07 85.78 528.93 82.32 529.60 80.90" fill="none" stroke="#858585" stroke-width="1.70"/>
<path d="M79.91 430.91 L80.01 430.93 L80.41 431.02 L80.86 431.12 L81.35 431.23 L81.86 431.34 L82.40 431.45 L82.94 431.57 L83.48 431.69 L84.01 431.80 L84.52 431.90 L85.00 432.00 L85.46 432.09 L85.91 432.18 L86.36 432.27 L86.81 432.36 L87.25 432.45 L87.70 432.54 L88.15 432.62 L88.59 432.70 L89.04 432.78 L89.49 432.86 L89.94 432.93 L90.40 433.00 L90.63 433.03 M95.39 433.56 L96.00 433.60 L96.69 433.64 L97.46 433.68 L98.28 433.72 L99.16 433.76 L100.06 433.79 L100.97 433.82 L101.89 433.86 L102.80 433.89 L103.68 433.92 L104.51 433.95 L105.29 433.97 L106.00 434.00 L106.31 434.01 M111.11 434.18 L112.00 434.20 L113.07 434.22 L114.28 434.23 L115.61 434.25 L117.04 434.27 L118.55 434.29 L120.12 434.31 L121.75 434.32 L122.04 434.33 M126.84 434.37 L128.39 434.39 L130.00 434.40 L131.60 434.41 L133.22 434.42 L134.86 434.43 L136.52 434.44 L137.77 434.45 M142.57 434.47 L143.26 434.47 L144.95 434.48 L146.64 434.48 L148.33 434.49 L150.00 434.50 L151.67 434.51 L153.33 434.52 L153.50 434.52 M158.30 434.54 L158.33 434.54 L160.00 434.55 L161.67 434.56 L163.33 434.57 L165.00 434.58 L166.67 434.58 L168.33 434.59 L169.23 434.60 M174.03 434.62 L175.00 434.63 L176.67 434.63 L178.33 434.64 L180.00 434.65 L181.67 434.66 L183.33 434.67 L184.96 434.67 M189.76 434.70 L190.00 434.70 L191.67 434.71 L193.33 434.72 L195.00 434.72 L196.67 434.73 L198.33 434.74 L200.00 434.75 L200.69 434.75 M205.49 434.78 L206.67 434.78 L208.33 434.79 L210.00 434.80 L211.67 434.81 L213.33 434.82 L215.00 434.83 L216.42 434.83 M221.22 434.86 L221.67 434.86 L223.33 434.87 L225.00 434.88 L226.67 434.88 L228.33 434.89 L230.00 434.90 L231.67 434.91 L232.15 434.91 M236.95 434.94 L238.33 434.95 L240.00 434.96 L241.67 434.97 L243.33 434.97 L245.00 434.98 L246.67 434.99 L247.88 434.99 M252.68 435.00 L253.33 435.01 L255.00 435.01 L256.67 435.01 L258.33 435.01 L260.00 435.01 L261.67 435.01 L263.33 435.00 L263.61 435.00 M268.41 435.00 L270.00 435.00 L271.67 435.00 L273.33 435.00 L275.00 435.00 L276.67 435.00 L278.33 435.00 L279.34 435.00 M284.14 435.00 L285.00 435.00 L286.67 435.00 L288.33 435.00 L290.00 435.00 L291.67 435.00 L293.33 435.00 L295.00 435.00 L295.07 435.00 M299.87 435.00 L300.00 435.00 L301.67 435.00 L303.33 435.00 L305.00 435.00 L306.67 435.00 L308.33 435.00 L310.00 435.00 L310.80 435.00 M315.60 435.00 L316.67 435.00 L318.33 435.00 L320.00 435.00 L321.67 435.00 L323.33 435.00 L325.00 435.00 L326.53 435.00 M331.33 435.00 L331.67 435.00 L333.33 435.00 L335.00 435.00 L336.67 435.00 L338.33 435.00 L340.00 435.00 L341.67 435.00 L342.26 435.00 M347.06 435.00 L348.33 435.00 L350.00 435.00 L351.67 435.00 L353.33 435.00 L355.00 435.00 L356.67 435.00 L357.99 435.00 M362.79 435.00 L363.33 435.00 L365.00 435.00 L366.67 435.00 L368.33 435.00 L370.00 435.00 L371.67 435.00 L373.33 435.00 L373.72 435.00 M378.52 435.00 L380.00 435.00 L381.67 435.00 L383.33 435.00 L385.00 435.00 L386.67 435.00 L388.33 435.00 L389.45 435.00 M394.25 435.00 L395.00 435.00 L396.67 435.00 L398.33 435.00 L400.00 435.00 L401.67 435.00 L403.33 435.00 L405.00 435.00 L405.18 435.00 M409.98 435.00 L410.00 435.00 L411.67 435.00 L413.33 435.00 L415.00 435.00 L416.67 435.00 L418.33 435.00 L420.00 435.00 L420.91 435.00 M425.71 435.00 L426.67 435.00 L428.33 435.00 L430.00 435.00 L431.67 435.00 L433.33 435.00 L435.00 435.00 L436.64 435.00 M441.44 435.00 L441.67 435.00 L443.33 435.00 L445.00 435.00 L446.67 435.00 L448.33 435.00 L450.00 435.00 L451.67 435.00 L452.37 435.00 M457.17 435.00 L458.33 435.00 L460.00 435.00 L461.67 435.00 L463.33 435.00 L465.00 435.00 L466.67 435.00 L468.10 435.00 M472.90 435.00 L473.33 435.00 L475.00 435.00 L476.67 435.00 L478.33 435.00 L480.00 435.00 L481.67 435.00 L483.33 435.00 L483.83 435.00 M488.63 435.00 L490.00 435.00 L491.67 435.00 L493.34 435.00 L495.01 435.00 L496.68 435.00 L498.35 435.00 L499.56 435.00 M504.36 435.00 L505.03 435.00 L506.69 435.00 L508.35 435.00 L510.00 435.00 L511.71 435.00 L513.52 435.00 L515.29 435.00 M520.09 435.00 L521.05 435.00 L522.84 435.00 L524.53 435.00 L526.09 435.00 L527.47 435.00 L528.65 435.00 L529.60 435.00" fill="none" stroke="#00a000" stroke-width="2.00"/>
<path d="M79.40 385.50 L79.83 386.57 L80.37 387.97 L81.00 389.62 L81.71 391.48 L82.49 393.49 L82.65 393.90 M84.41 398.37 L85.02 399.85 L85.88 401.89 L86.73 403.80 L87.54 405.53 L88.30 407.00 L89.02 408.26 M91.75 412.21 L91.82 412.31 L92.52 413.12 L93.22 413.89 L93.94 414.63 L94.67 415.34 L95.42 416.05 L96.20 416.77 L97.00 417.50 L97.84 418.24 L98.70 418.97 L99.59 419.68 L99.66 419.73 M103.58 422.48 L104.25 422.90 L105.20 423.47 L106.14 424.01 L107.08 424.52 L108.00 425.00 L108.88 425.44 L109.70 425.84 L110.49 426.20 L111.25 426.53 L112.01 426.83 L112.79 427.11 L113.37 427.29 M118.03 428.41 L119.00 428.60 L120.46 428.86 L122.07 429.11 L123.79 429.35 L125.60 429.59 L127.50 429.82 L128.85 429.97 M133.62 430.48 L135.47 430.66 L137.46 430.85 L139.41 431.03 L141.30 431.20 L143.12 431.36 L144.51 431.47 M149.29 431.81 L150.04 431.86 L151.77 431.96 L153.53 432.06 L155.34 432.15 L157.21 432.24 L159.17 432.33 L160.21 432.37 M165.01 432.56 L165.74 432.58 L168.25 432.66 L170.90 432.74 L173.66 432.81 L175.93 432.87 M180.73 432.97 L182.17 433.01 L184.97 433.07 L187.69 433.13 L190.29 433.18 L191.66 433.22 M196.46 433.34 L197.07 433.36 L199.00 433.41 L200.82 433.47 L202.53 433.52 L204.16 433.57 L205.72 433.62 L207.25 433.67 L207.38 433.67 M212.18 433.82 L213.37 433.85 L215.00 433.90 L216.73 433.95 L218.56 433.99 L220.47 434.04 L222.41 434.09 L223.11 434.11 M227.90 434.23 L228.08 434.23 L229.81 434.27 L231.41 434.31 L232.82 434.35 L234.03 434.38 L235.00 434.40 M235.00 434.40 L235.97 434.41 L237.18 434.43 L238.59 434.46 L240.13 434.48 M244.93 434.56 L245.65 434.57 L247.59 434.60 L249.53 434.62 L251.44 434.65 L253.27 434.68 L255.00 434.70 L255.86 434.71 M260.66 434.77 L261.48 434.78 L263.08 434.80 L264.69 434.81 L266.31 434.83 L267.96 434.84 L269.65 434.86 L271.38 434.87 L271.59 434.88 M276.39 434.91 L276.92 434.91 L278.94 434.92 L281.02 434.93 L283.15 434.94 L285.32 434.95 L287.32 434.96 M292.12 434.97 L293.98 434.98 L296.06 434.98 L298.08 434.99 L300.00 435.00 L301.84 435.01 L303.05 435.01 M307.85 435.04 L308.69 435.05 L310.31 435.06 L311.92 435.07 L313.52 435.07 L315.12 435.08 L316.72 435.09 L318.35 435.10 L318.78 435.10 M323.58 435.11 L325.00 435.11 L326.67 435.11 L328.33 435.11 L330.00 435.11 L331.67 435.11 L333.33 435.10 L334.51 435.10 M339.31 435.10 L340.00 435.10 L341.67 435.10 L343.33 435.10 L345.00 435.10 L346.67 435.10 L348.33 435.10 L350.00 435.10 L350.24 435.10 M355.04 435.10 L356.67 435.10 L358.33 435.10 L360.00 435.10 L361.67 435.10 L363.33 435.10 L365.00 435.10 L365.97 435.10 M370.77 435.10 L371.67 435.10 L373.33 435.10 L375.00 435.10 L376.67 435.10 L378.33 435.10 L380.00 435.10 L381.67 435.10 L381.70 435.10 M386.50 435.10 L386.67 435.10 L388.33 435.10 L390.00 435.10 L391.67 435.10 L393.33 435.10 L395.00 435.10 L396.67 435.10 L397.43 435.10 M402.23 435.10 L403.33 435.10 L405.00 435.10 L406.67 435.10 L408.33 435.10 L410.00 435.10 L411.67 435.10 L413.16 435.10 M417.96 435.10 L418.33 435.10 L420.00 435.10 L421.67 435.10 L423.33 435.10 L425.00 435.10 L426.67 435.10 L428.33 435.10 L428.89 435.10 M433.69 435.10 L435.00 435.10 L436.67 435.10 L438.33 435.10 L440.00 435.10 L441.67 435.10 L443.33 435.10 L444.62 435.10 M449.42 435.10 L450.00 435.10 L451.67 435.10 L453.33 435.10 L455.00 435.10 L456.67 435.10 L458.33 435.10 L460.00 435.10 L460.35 435.10 M465.15 435.10 L466.67 435.10 L468.33 435.10 L470.00 435.10 L471.67 435.10 L473.33 435.10 L475.00 435.10 L476.08 435.10 M480.88 435.10 L481.67 435.10 L483.33 435.10 L485.00 435.10 L486.67 435.10 L488.33 435.10 L490.00 435.10 L491.67 435.10 L491.81 435.10 M496.61 435.10 L496.67 435.10 L498.33 435.10 L500.00 435.10 L501.70 435.10 L503.45 435.10 L505.24 435.10 L507.05 435.10 L507.54 435.10 M512.34 435.10 L512.40 435.10 L514.10 435.10 L515.73 435.10 L517.27 435.10 L518.70 435.10 L520.00 435.10 L521.19 435.10 L522.31 435.10 L523.27 435.10 M528.07 435.10 L528.12 435.10 L528.68 435.10 L529.17 435.10 L529.60 435.10" fill="none" stroke="#999999" stroke-width="1.70"/>
<path d="M79.40 307.60 C80.88 310.62 85.17 319.43 88.30 325.70 C91.43 331.97 94.82 338.82 98.20 345.20 C101.58 351.58 105.42 358.53 108.60 364.00 C111.78 369.47 114.42 373.65 117.30 378.00 C120.18 382.35 123.03 386.40 125.90 390.10 C128.77 393.80 131.18 396.92 134.50 400.20 C137.82 403.48 142.33 407.42 145.80 409.80 C149.27 412.18 151.63 412.93 155.30 414.50 C158.97 416.07 162.02 417.58 167.80 419.20 C173.58 420.82 184.47 422.77 190.00 424.20 C195.53 425.63 197.33 427.07 201.00 427.80 C204.67 428.53 208.30 428.68 212.00 428.60 C215.70 428.52 219.48 428.23 223.20 427.30 C226.92 426.37 230.62 425.00 234.30 423.00 C237.98 421.00 241.62 418.43 245.30 415.30 C248.98 412.17 252.70 407.88 256.40 404.20 C260.10 400.52 264.18 396.52 267.50 393.20 C270.82 389.88 274.08 386.03 276.30 384.30 C278.52 382.57 278.95 383.65 280.80 382.80 C282.65 381.95 284.82 379.95 287.40 379.20 C289.98 378.45 292.18 378.48 296.30 378.30 C300.42 378.12 307.62 378.32 312.10 378.10 C316.58 377.88 320.25 377.48 323.20 377.00 C326.15 376.52 327.95 376.05 329.80 375.20 C331.65 374.35 331.72 374.12 334.30 371.90 C336.88 369.68 341.62 365.78 345.30 361.90 C348.98 358.02 352.70 353.58 356.40 348.60 C360.10 343.62 363.80 337.35 367.50 332.00 C371.20 326.65 374.92 321.67 378.60 316.50 C382.28 311.33 385.92 305.42 389.60 301.00 C393.28 296.58 398.43 292.12 400.70 290.00 C402.97 287.88 401.37 290.00 403.20 288.30 C405.03 286.60 409.27 282.45 411.70 279.80 C414.13 277.15 415.77 274.12 417.80 272.40 C419.83 270.68 421.87 270.92 423.90 269.50 C425.93 268.08 427.97 265.93 430.00 263.90 C432.03 261.87 434.07 258.72 436.10 257.30 C438.13 255.88 439.35 257.55 442.20 255.40 C445.05 253.25 449.33 248.67 453.20 244.40 C457.07 240.13 461.33 235.28 465.40 229.80 C469.47 224.32 473.95 217.40 477.60 211.50 C481.25 205.60 484.60 198.98 487.30 194.40 C490.00 189.82 491.40 188.27 493.80 184.00 C496.20 179.73 499.07 173.32 501.70 168.80 C504.33 164.28 507.82 160.87 509.60 156.90 C511.38 152.93 511.48 150.08 512.40 145.00 C513.32 139.92 514.20 131.92 515.10 126.40 C516.00 120.88 516.85 116.08 517.80 111.90 C518.75 107.72 519.50 105.27 520.80 101.30 C522.10 97.33 524.13 91.72 525.60 88.10 C527.07 84.48 528.93 81.02 529.60 79.60" fill="none" stroke="#ff00ff" stroke-width="1.90"/>
<path d="M80.24 309.25 L80.37 309.51 L81.00 310.76 L81.71 312.17 L82.49 313.70 L83.31 315.31 L84.16 316.98 L85.02 318.67 L85.18 319.00 M87.39 323.26 L87.54 323.55 L88.30 325.00 L89.02 326.37 L89.73 327.70 L90.44 329.02 L91.13 330.31 L91.82 331.60 L92.52 332.88 L92.53 332.91 M94.86 337.10 L95.42 338.08 L96.20 339.42 L97.00 340.80 L97.84 342.22 L98.72 343.68 L99.63 345.17 L100.44 346.50 M102.98 350.57 L103.42 351.27 L104.37 352.78 L105.32 354.27 L106.24 355.72 L107.14 357.14 L108.00 358.50 L108.83 359.81 M111.38 363.87 L111.94 364.77 L112.69 365.94 L113.44 367.11 L114.19 368.26 L114.94 369.40 L115.71 370.53 L116.50 371.66 L117.30 372.80 L117.43 372.98 M120.28 376.83 L120.66 377.33 L121.52 378.45 L122.38 379.55 L123.25 380.64 L124.12 381.71 L124.99 382.77 L125.87 383.80 L126.73 384.82 L127.17 385.31 M130.40 388.87 L130.96 389.46 L131.79 390.32 L132.63 391.17 L133.48 392.00 L134.34 392.83 L135.21 393.64 L136.12 394.46 L137.04 395.28 L138.00 396.10 L138.33 396.38 M142.06 399.40 L142.11 399.44 L143.19 400.27 L144.29 401.09 L145.39 401.90 L146.51 402.69 L147.63 403.46 L148.76 404.21 L149.88 404.92 L151.00 405.60 L151.04 405.62 M155.27 407.89 L155.70 408.10 L156.91 408.67 L158.11 409.22 L159.31 409.75 L160.48 410.25 L161.63 410.73 L162.73 411.18 L163.79 411.60 L164.80 412.00 L165.31 412.20 M169.88 413.66 L170.54 413.82 L171.33 414.02 L172.21 414.24 L173.23 414.49 L174.40 414.80 L175.74 415.16 L177.24 415.56 L178.86 415.99 L180.45 416.41 M185.10 417.63 L186.11 417.89 L187.99 418.36 L189.85 418.82 L191.65 419.25 L193.37 419.65 L195.00 420.00 L195.73 420.15 M200.45 421.03 L200.75 421.08 L202.09 421.30 L203.41 421.50 L204.74 421.69 L206.10 421.89 L207.48 422.08 L208.92 422.27 L210.42 422.48 L211.27 422.60 M216.02 423.26 L217.15 423.41 L218.96 423.66 L220.81 423.90 L222.69 424.14 L224.58 424.38 L226.48 424.62 L226.86 424.67 M231.63 425.23 L232.15 425.29 L234.00 425.50 L235.83 425.70 L237.66 425.89 L239.49 426.07 L241.31 426.24 L242.50 426.36 M247.28 426.78 L248.62 426.90 L250.46 427.05 L252.30 427.20 L254.15 427.35 L256.00 427.50 L257.86 427.64 L258.17 427.67 M262.96 428.01 L263.51 428.05 L265.40 428.18 L267.29 428.31 L269.19 428.43 L271.08 428.55 L272.97 428.66 L273.87 428.72 M278.66 429.00 L280.32 429.10 L281.80 429.20 L283.12 429.29 L284.37 429.37 L285.61 429.45 L286.92 429.53 L288.38 429.61 L289.57 429.67 M294.37 429.88 L294.46 429.88 L297.31 429.99 L300.70 430.10 L304.68 430.23 L305.29 430.25 M310.09 430.40 L314.15 430.52 L319.50 430.68 L321.01 430.73 M325.81 430.86 L331.04 431.01 L336.74 431.17 M341.53 431.30 L343.21 431.34 L349.34 431.50 L352.46 431.57 M357.26 431.69 L361.31 431.78 L367.00 431.90 L368.19 431.92 M372.99 432.02 L377.80 432.10 L383.03 432.19 L383.91 432.20 M388.71 432.27 L393.42 432.34 L398.67 432.41 L399.64 432.42 M404.44 432.48 L409.52 432.53 L415.22 432.60 L415.37 432.60 M420.17 432.65 L421.17 432.66 L427.41 432.73 L431.10 432.77 M435.90 432.82 L441.27 432.88 L446.83 432.93 M451.63 432.98 L458.13 433.05 L462.56 433.09 M467.36 433.13 L476.65 433.22 L478.29 433.24 M483.09 433.28 L485.99 433.31 L494.02 433.38 M498.82 433.42 L503.76 433.47 L509.75 433.52 M514.55 433.56 L518.87 433.60 L524.89 433.66 L525.48 433.66" fill="none" stroke="#ff00ff" stroke-width="1.80"/>
</g>
<g class="tk">
<text transform="translate(174.51 470.0) scale(0.948 1)" text-anchor="middle">0.05</text>
<text transform="translate(292.96 470.0) scale(0.948 1)" text-anchor="middle">0.10</text>
<text transform="translate(411.40 470.0) scale(0.948 1)" text-anchor="middle">0.15</text>
<text transform="translate(529.85 470.0) scale(0.948 1)" text-anchor="middle">0.20</text>
<text transform="translate(77.3 438.95) scale(0.948 1)" text-anchor="end">0.00</text>
<text transform="translate(77.3 332.10) scale(0.948 1)" text-anchor="end">0.05</text>
<text transform="translate(77.3 225.25) scale(0.948 1)" text-anchor="end">0.10</text>
<text transform="translate(77.3 118.40) scale(0.948 1)" text-anchor="end">0.15</text>
<text transform="translate(77.3 11.55) scale(0.948 1)" text-anchor="end">0.20</text>
<text x="304.7" y="488.7" text-anchor="middle" style="font-size:14.4px">k (h/Mpc)</text>
</g>
<!-- annotation -->
<g class="ser" style="font-size:14.7px">
<text x="107.5" y="36.4" style="font-style:italic;font-size:13.5px">w</text>
<text x="144.2" y="36.4">0.8</text>
<text x="111.7" y="57.6" style="font-style:italic;font-size:13.5px">z</text>
<text x="134.6" y="57.6">1</text>
</g>
<g fill="#000">
<rect x="120.8" y="29.9" width="9.5" height="1.6"/>
<rect x="120.8" y="34.2" width="9.5" height="1.6"/>
<rect x="135.0" y="32.0" width="8.7" height="1.6"/>
<rect x="120.8" y="51.2" width="9.5" height="1.6"/>
<rect x="120.8" y="55.4" width="9.5" height="1.6"/>
</g>
<!-- y label -->
<g transform="translate(22.4 231.35) rotate(-90)">
<line x1="-24" y1="0" x2="24" y2="0" stroke="#000" stroke-width="0.8"/>
<rect x="-10.25" y="-12.9" width="7" height="1.0" fill="#000"/>
<g style="font-size:14.6px">
<text x="-23.2" y="-8.1" style="font-style:italic">P</text>
<text x="0.3" y="-8.1" style="font-style:italic">P</text>
<text x="-11.5" y="16.6" style="font-style:italic">P</text>
</g>
<g style="font-size:10.5px">
<text x="9.9" y="-14.8">lin</text>
<text x="10.3" y="-3.5">sm</text>
<text x="0.6" y="10.3">lin</text>
<text x="-3.6" y="21.1">sm</text>
</g>
</g>
</svg>
</body></html>
